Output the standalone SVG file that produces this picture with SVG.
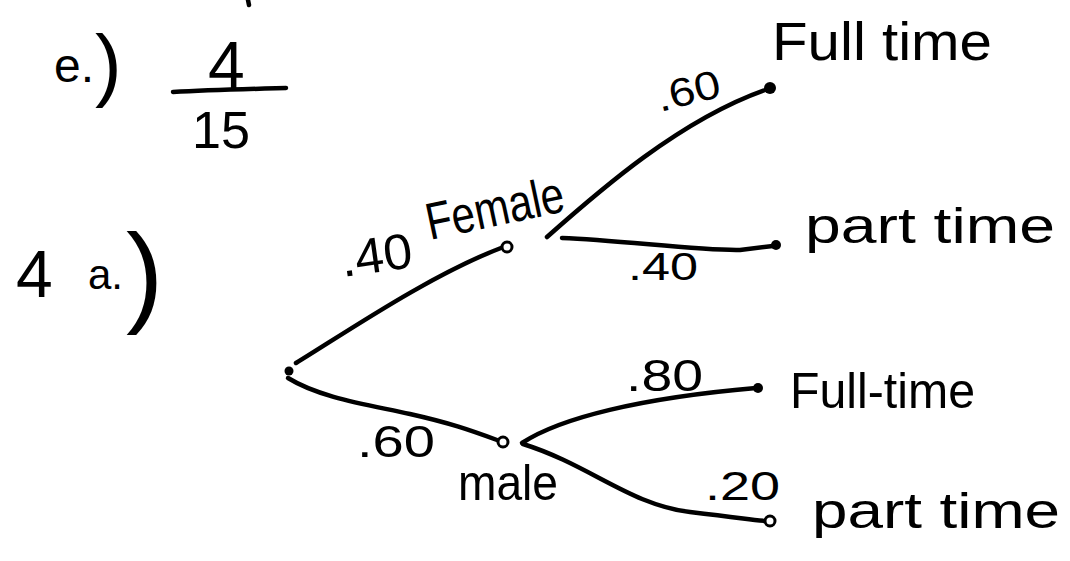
<svg xmlns="http://www.w3.org/2000/svg" width="1070" height="561" viewBox="0 0 1070 561">
<style>
.t{font-family:"Liberation Sans",Arial,sans-serif;fill:#000;}
.c{fill:none;stroke:#000;stroke-width:4.5;stroke-linecap:round;stroke-linejoin:round;}
.o{fill:#fff;stroke:#000;stroke-width:3;}
.d{fill:#000;}
</style>
<rect width="1070" height="561" fill="#fff"/>
<path class="c" d="M248,0 L249,5" stroke-width="3"/>
<g id="part-e">
<text class="t" x="54" y="82" font-size="48">e.<tspan x="95" y="91" font-size="80">)</tspan></text>
<text class="t" x="208" y="88" font-size="66">4</text>
<path class="c" d="M173,92 C210,90 250,89 286,88"/>
<text class="t" x="192" y="148" font-size="52" textLength="58" lengthAdjust="spacingAndGlyphs">15</text>
</g>
<g id="part-4a">
<text class="t" x="16" y="297" font-size="66">4</text>
<text class="t" x="88" y="289" font-size="42">a.<tspan x="126" y="312" font-size="112">)</tspan></text>
</g>
<g id="connectors">
<path class="c" d="M296,363 C345,333 430,275 501,248"/>
<path class="c" d="M288,378 C320,398 370,405 410,414 S470,430 497,440"/>
<path class="c" d="M547,237 C600,190 680,120 765,90"/>
<path class="c" d="M562,238 C620,240 700,251 740,250 L773,246"/>
<path class="c" d="M522,443 C560,418 640,398 756,388"/>
<path class="c" d="M523,444 C590,465 630,505 690,512 S750,520 766,521"/>
<text class="t" x="343" y="277" font-size="50" textLength="72" lengthAdjust="spacingAndGlyphs" transform="rotate(-8 343 277)">.40</text>
<text class="t" x="357" y="457" font-size="44" textLength="78" lengthAdjust="spacingAndGlyphs">.60</text>
<text class="t" x="660" y="112" font-size="40" textLength="65" lengthAdjust="spacingAndGlyphs" transform="rotate(-14 660 112)">.60</text>
<text class="t" x="628" y="280" font-size="38" textLength="70" lengthAdjust="spacingAndGlyphs">.40</text>
<text class="t" x="626" y="391" font-size="44" textLength="77" lengthAdjust="spacingAndGlyphs">.80</text>
<text class="t" x="705" y="500" font-size="40" textLength="75" lengthAdjust="spacingAndGlyphs">.20</text>
</g>
<g id="root">
<circle class="d" cx="289" cy="371" r="4.5"/>
</g>
<g id="female">
<circle class="o" cx="507" cy="247" r="5"/>
<text class="t" x="430" y="240" font-size="52" textLength="140" lengthAdjust="spacingAndGlyphs" transform="rotate(-12 430 240)">Female</text>
</g>
<g id="male">
<circle class="o" cx="503" cy="442" r="5"/>
<text class="t" x="458" y="500" font-size="50" textLength="100" lengthAdjust="spacingAndGlyphs">male</text>
</g>
<g id="female-full">
<circle class="d" cx="770" cy="88" r="6"/>
<text class="t" x="772" y="60" font-size="54" textLength="220" lengthAdjust="spacingAndGlyphs">Full time</text>
</g>
<g id="female-part">
<circle class="d" cx="776" cy="245" r="5"/>
<text class="t" x="805" y="243" font-size="50" textLength="250" lengthAdjust="spacingAndGlyphs">part time</text>
</g>
<g id="male-full">
<circle class="d" cx="758" cy="388" r="5"/>
<text class="t" x="790" y="408" font-size="50" textLength="185" lengthAdjust="spacingAndGlyphs">Full-time</text>
</g>
<g id="male-part">
<circle class="o" cx="770" cy="521" r="5"/>
<text class="t" x="812" y="528" font-size="50" textLength="248" lengthAdjust="spacingAndGlyphs">part time</text>
</g>
</svg>
